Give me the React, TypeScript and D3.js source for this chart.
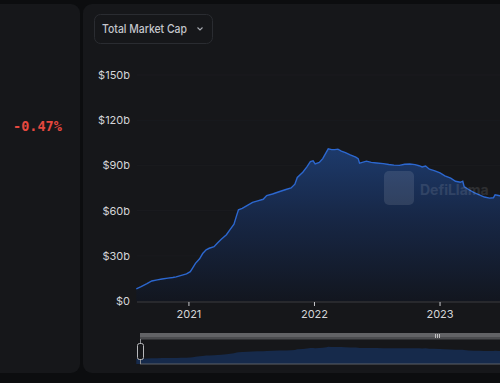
import React from "react";
import * as d3 from "d3";

const dates = [
  "2020-08-01","2020-08-15","2020-09-01","2020-09-15","2020-10-01","2020-10-15","2020-11-01","2020-11-15","2020-11-25","2020-12-10",
  "2020-12-25","2021-01-05","2021-01-12","2021-01-20","2021-02-01","2021-02-10","2021-02-20","2021-03-01","2021-03-15","2021-03-25",
  "2021-04-05","2021-04-20","2021-05-01","2021-05-12","2021-05-20","2021-05-25","2021-06-05","2021-06-20","2021-07-05","2021-07-20",
  "2021-08-05","2021-08-15","2021-09-01","2021-09-20","2021-10-10","2021-10-25","2021-11-05","2021-11-12","2021-11-28","2021-12-10",
  "2021-12-20","2021-12-28","2022-01-03","2022-01-15","2022-01-25","2022-02-05","2022-02-10","2022-02-20","2022-03-01","2022-03-10",
  "2022-03-20","2022-04-01","2022-04-15","2022-05-01","2022-05-08","2022-05-12","2022-05-20","2022-06-01","2022-06-15","2022-07-01",
  "2022-07-20","2022-08-05","2022-08-20","2022-09-05","2022-09-20","2022-10-05","2022-10-20","2022-11-01","2022-11-10","2022-11-20",
  "2022-12-01","2022-12-15","2023-01-01","2023-01-15","2023-02-01","2023-02-15","2023-03-01","2023-03-08","2023-03-12","2023-03-25",
  "2023-04-10","2023-04-25","2023-05-10","2023-05-25","2023-06-05","2023-06-10","2023-06-20","2023-07-01"
];
const marketCap = [
  8.0,9.5,11.5,13.3,14.0,14.6,15.2,15.6,16.0,17.0,
  18.0,19.5,22.0,25.0,28.0,31.5,34.0,35.0,36.0,38.5,
  41.0,44.0,47.5,51.0,57.0,60.5,61.5,63.5,65.5,66.5,
  67.5,70.0,71.0,72.5,74.0,75.0,77.5,82.0,85.5,89.0,
  92.5,93.0,91.0,92.0,94.5,99.0,101.0,100.5,100.5,100.8,
  99.5,98.5,97.0,95.5,94.5,91.5,92.0,92.8,92.0,91.6,
  91.2,90.6,90.2,90.0,90.8,90.9,90.5,89.8,89.0,89.6,
  87.5,86.5,85.0,83.0,81.5,79.5,78.8,79.5,76.0,74.0,
  72.0,70.5,69.0,68.3,68.5,70.5,70.0,69.5
];
const yTicks = [0, 30, 60, 90, 120, 150];
const xTickYears = [2021, 2022, 2023];
const changeLabel = "-0.47%";
const selectorLabel = "Total Market Cap";

const parse = d3.timeParse("%Y-%m-%d");

export default function App() {
  const data = dates.map((d, i) => ({ date: parse(d) as Date, value: marketCap[i] }));
  const x = d3.scaleTime().domain([new Date(2020, 7, 1), new Date(2023, 6, 1)]).range([136.3, 502.3]);
  const y = d3.scaleLinear().domain([0, 150]).range([301, 75]);
  const yMini = d3.scaleLinear().domain([0, 100]).range([360, 347]);

  const area = d3.area<any>().x(d => x(d.date)).y0(y(0)).y1(d => y(d.value));
  const line = d3.line<any>().x(d => x(d.date)).y(d => y(d.value));
  const miniArea = d3.area<any>().x(d => x(d.date)).y0(364).y1(d => yMini(d.value));

  const fmt = (v: number) => (v === 0 ? "$0" : `$${v}b`);
  const font = "Inter, 'Noto Sans', sans-serif";

  return (
    <svg width={500} height={383} style={{ position: "absolute", left: 0, top: 0, display: "block" }}>
      <defs>
        <linearGradient id="ag" gradientUnits="userSpaceOnUse" x1="0" y1={y(101)} x2="0" y2={y(0)}>
          <stop offset="0" stopColor="#1d3a6b" />
          <stop offset="0.45" stopColor="#172746" />
          <stop offset="1" stopColor="#12161f" />
        </linearGradient>
        <clipPath id="plotClip">
          <rect x={130} y={60} width={370} height={242} />
        </clipPath>
      </defs>
      <rect x={0} y={0} width={500} height={383} fill="#0c0d0f" />
      <rect x={-12} y={4} width={92} height={369} rx={9} fill="#16171a" />
      <rect x={83} y={4} width={440} height={369} rx={9} fill="#16171a" />

      <text x={13} y={131} fill="#e5483f" fontFamily="'DejaVu Sans Mono', 'Liberation Mono', monospace" fontSize={13.5} fontWeight={600}>
        {changeLabel}
      </text>

      <rect x={94.5} y={14.5} width={118} height={29} rx={6} fill="#16171a" stroke="#2a2c31" />
      <text x={102} y={33} fill="#c4c6cc" fontFamily={font} fontSize={12} fontWeight={500} textLength={85} lengthAdjust="spacingAndGlyphs">{selectorLabel}</text>
      <path d="M197.5,27.5 L200,30 L202.5,27.5" fill="none" stroke="#a8abb2" strokeWidth={1.1} />

      {yTicks.map(t => (
        <g key={t}>
          {t > 0 && <line x1={137} x2={500} y1={y(t)} y2={y(t)} stroke="#1a1b1f" />}
          <text x={130} y={y(t) + 4} textAnchor="end" fill="#d4d5d8" fontFamily={font} fontSize={11}>{fmt(t)}</text>
        </g>
      ))}

      <g clipPath="url(#plotClip)">
        <path d={area(data) || ""} fill="url(#ag)" />
        <path d={line(data) || ""} fill="none" stroke="#2c67cf" strokeWidth={1.4} />
      </g>

      {/* watermark */}
      <g opacity={0.1}>
        <rect x={384} y={171} width={30} height={34} rx={5} fill="#ffffff" />
        <text x={420} y={195} fill="#ffffff" fontFamily={font} fontSize={14} fontWeight={700}>DefiLlama</text>
      </g>

      <line x1={137} x2={500} y1={302} y2={302} stroke="#3a3c41" />
      {xTickYears.map(yr => {
        const xx = x(new Date(yr, 0, 1));
        return (
          <g key={yr}>
            <line x1={xx} x2={xx} y1={302} y2={306} stroke="#c8c9cc" />
            <text x={xx} y={318} textAnchor="middle" fill="#d4d5d8" fontFamily={font} fontSize={11}>{yr}</text>
          </g>
        );
      })}

      {/* data zoom */}
      <rect x={140} y={333} width={362} height={4} fill="#626366" />
      <rect x={140} y={337} width={362} height={2.5} fill="#4b4c4f" />
      <path d={miniArea(data) || ""} fill="#162a4b" />
      <line x1={140} x2={500} y1={364} y2={364} stroke="#5d6066" />
      <line x1={140.5} x2={140.5} y1={339} y2={364} stroke="#8a8c90" />
      <rect x={137.5} y={343.5} width={6} height={16} rx={2} fill="#16171a" stroke="#b8b9bc" />
      <g stroke="#d8d8d8" strokeWidth={0.8}>
        <line x1={435.5} x2={435.5} y1={334} y2={338} />
        <line x1={437.5} x2={437.5} y1={334} y2={338} />
        <line x1={439.5} x2={439.5} y1={334} y2={338} />
      </g>
    </svg>
  );
}
